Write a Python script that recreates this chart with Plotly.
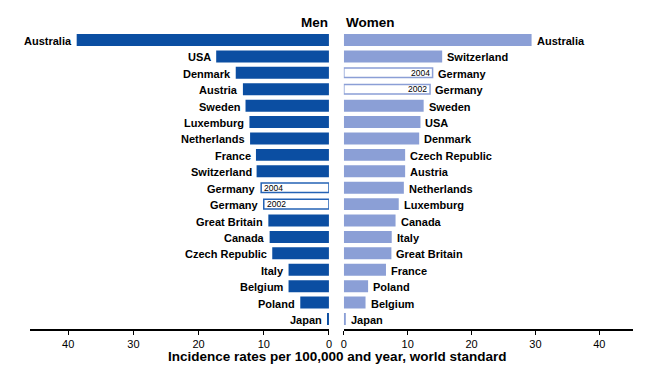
import plotly.graph_objects as go

# ---- data ----
men_countries = ["Australia", "USA", "Denmark", "Austria", "Sweden", "Luxemburg",
                 "Netherlands", "France", "Switzerland", "Germany", "Germany",
                 "Great Britain", "Canada", "Czech Republic", "Italy", "Belgium",
                 "Poland", "Japan"]
men_years = ["", "", "", "", "", "", "", "", "", "2004", "2002", "", "", "", "", "", "", ""]
men_values = [38.7, 17.3, 14.3, 13.2, 12.8, 12.2, 12.1, 11.2, 11.1, 10.4, 10.0,
              9.3, 9.1, 8.7, 6.2, 6.2, 4.4, 0.3]

women_countries = ["Australia", "Switzerland", "Germany", "Germany", "Sweden", "USA",
                   "Denmark", "Czech Republic", "Austria", "Netherlands", "Luxemburg",
                   "Canada", "Italy", "Great Britain", "France", "Poland", "Belgium",
                   "Japan"]
women_years = ["", "", "2004", "2002", "", "", "", "", "", "", "", "", "", "", "", "", "", ""]
women_values = [29.4, 15.4, 13.9, 13.5, 12.5, 12.0, 11.8, 9.6, 9.6, 9.4, 8.6,
                8.1, 7.5, 7.45, 6.6, 3.8, 3.4, 0.3]

tick_vals = [0, 10, 20, 30, 40]
axis_title = "Incidence rates per 100,000 and year, world standard"

# ---- styling ----
W, H = 650, 367
MEN_COLOR = "#0b4ea2"
MEN_LINE = "#2563b5"
WOMEN_COLOR = "#8b9fd6"
FONT = "Liberation Sans, Arial, Helvetica, sans-serif"


def bar_style(years, fill, line):
    colors = ["white" if y else fill for y in years]
    lcolors = [line if y else fill for y in years]
    lwidths = [1.5 if y else 0 for y in years]
    widths = [0.58 if y else 0.73 for y in years]
    return colors, lcolors, lwidths, widths


fig = go.Figure()

mpos = list(range(len(men_countries)))
wpos = list(range(len(women_countries)))

c, lc, lw, wd = bar_style(men_years, MEN_COLOR, MEN_LINE)
fig.add_trace(go.Bar(x=men_values, y=mpos, orientation="h", width=wd,
                     marker=dict(color=c, line=dict(color=lc, width=lw)),
                     xaxis="x", yaxis="y", showlegend=False, hoverinfo="skip"))
c, lc, lw, wd = bar_style(women_years, WOMEN_COLOR, WOMEN_COLOR)
fig.add_trace(go.Bar(x=women_values, y=wpos, orientation="h", width=wd,
                     marker=dict(color=c, line=dict(color=lc, width=lw)),
                     xaxis="x2", yaxis="y2", showlegend=False, hoverinfo="skip"))

label_font = dict(family=FONT, size=11, color="black", weight="bold")
year_font = dict(family=FONT, size=8.5, color="black")

annotations = []
for v, p, name, yr in zip(men_values, mpos, men_countries, men_years):
    annotations.append(dict(text=name, x=v, y=p, xref="x", yref="y", xanchor="right",
                            yanchor="middle", xshift=-3, yshift=-1, showarrow=False,
                            font=label_font))
    if yr:
        annotations.append(dict(text=yr, x=v, y=p, xref="x", yref="y", xanchor="left",
                                yanchor="middle", xshift=1, showarrow=False, font=year_font))
for v, p, name, yr in zip(women_values, wpos, women_countries, women_years):
    annotations.append(dict(text=name, x=v, y=p, xref="x2", yref="y2", xanchor="left",
                            yanchor="middle", xshift=3, yshift=-1, showarrow=False,
                            font=label_font))
    if yr:
        annotations.append(dict(text=yr, x=v, y=p, xref="x2", yref="y2", xanchor="right",
                                yanchor="middle", xshift=-1, showarrow=False, font=year_font))

TOP, BOT = 28, 38
plot_h = H - TOP - BOT
n = len(men_countries)
row_px = (319 - 40) / (n - 1)
y_range = [n - 1 + (329 - 319) / row_px, -(40 - TOP) / row_px]

xaxis_common = dict(showline=True, linecolor="black", linewidth=1.5, ticks="outside",
                    ticklen=4, tickwidth=1, tickcolor="black", tickvals=tick_vals,
                    showgrid=False, zeroline=False,
                    tickfont=dict(family=FONT, size=11, color="black"))
yaxis_common = dict(range=y_range, showticklabels=False, showgrid=False,
                    zeroline=False, showline=False, ticks="")

annotations += [
    dict(text="Men", x=330 / W, y=(H - BOT - 22) / plot_h, xref="paper", yref="paper",
         xanchor="right", yanchor="middle", showarrow=False,
         font=dict(family=FONT, size=13.5, color="black", weight="bold")),
    dict(text="Women", x=344 / W, y=(H - BOT - 22) / plot_h, xref="paper", yref="paper",
         xanchor="left", yanchor="middle", showarrow=False,
         font=dict(family=FONT, size=13.5, color="black", weight="bold")),
    dict(text=axis_title, x=337.5 / W, y=(H - BOT - 356) / plot_h, xref="paper",
         yref="paper", xanchor="center", yanchor="middle", showarrow=False,
         font=dict(family=FONT, size=13.5, color="black", weight="bold")),
]

fig.update_layout(
    width=W, height=H,
    margin=dict(l=0, r=0, t=TOP, b=BOT),
    plot_bgcolor="white", paper_bgcolor="white",
    barmode="overlay",
    xaxis=dict(domain=[27 / W, 329 / W], range=[45.9, 0], anchor="y", **xaxis_common),
    xaxis2=dict(domain=[344 / W, 636 / W], range=[0, 45.3], anchor="y2", **xaxis_common),
    yaxis=dict(domain=[0, 1], anchor="x", **yaxis_common),
    yaxis2=dict(domain=[0, 1], anchor="x2", **yaxis_common),
    annotations=annotations,
)

fig.write_html("out.html", config={"displayModeBar": False},
               post_script="document.body.style.margin='0';document.body.style.overflow='hidden';")
